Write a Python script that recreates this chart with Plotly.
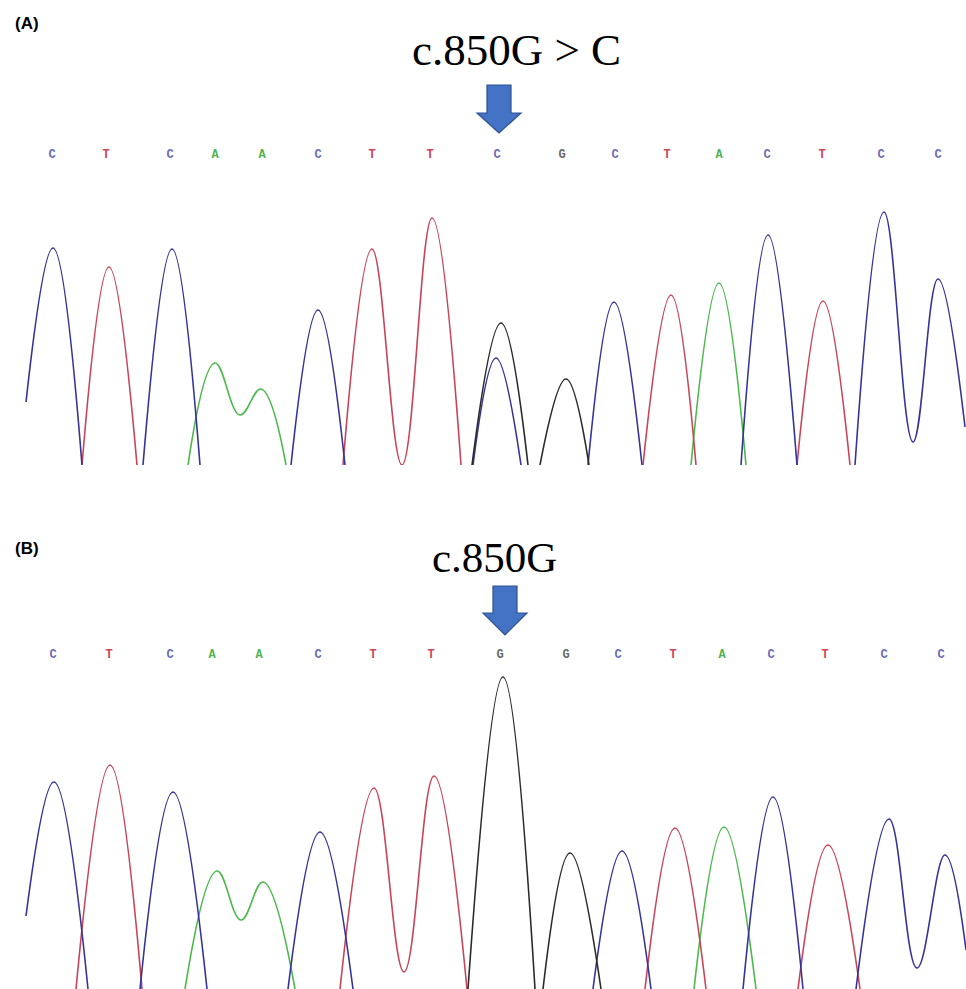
import plotly.graph_objects as go

W, H = 966, 989

# ---------------- data (scan position, signal intensity) ----------------
# Panel A: patient (heterozygous c.850G>C)
A_bases = ["C","T","C","A","A","C","T","T","C","G","C","T","A","C","T","C","C"]
A_base_pos = [52,106,170,215,262,318,372,430,497,562,615,667,719,767,822,881,938]

A_C_x = [[26,53,82],[143,172,200],[291,318,345],[473,496,521],[588,614,642],[741,768,797],[855,884,913,938,965]]
A_C_y = [[63,217,0],[0,216,0],[0,155,0],[0,107,0],[0,163,0],[0,230,0],[0,253,23,186,38]]
A_T_x = [[82,109,137],[343,372,402,432,461],[643,671,696],[797,823,850]]
A_T_y = [[0,198,0],[0,216,0,247,0],[0,170,0],[0,164,0]]
A_A_x = [[188,215,240,261,286],[691,719,746]]
A_A_y = [[0,102,50,76,0],[0,182,0]]
A_G_x = [[472,501,528],[540,566,589]]
A_G_y = [[0,142,0],[0,86,0]]

# Panel B: control (wild type c.850G)
B_bases = ["C","T","C","A","A","C","T","T","G","G","C","T","A","C","T","C","C"]
B_base_pos = [53,109,170,212,259,318,373,431,500,566,618,673,722,771,825,884,941]

B_C_x = [[26,54,88],[140,173,207],[288,320,353],[593,622,651],[743,773,803],[856,889,917,945,966]]
B_C_y = [[73,207,0],[0,197,0],[0,157,0],[0,138,0],[0,192,0],[0,170,21,134,39]]
B_T_x = [[76,110,142],[340,374,404,434,467],[645,675,706],[798,828,860]]
B_T_y = [[0,224,0],[0,201,17,213,0],[0,161,0],[0,144,0]]
B_A_x = [[185,217,241,263,295],[694,724,756]]
B_A_y = [[0,118,69,107,0],[0,162,0]]
B_G_x = [[468,503,535],[543,570,601]]
B_G_y = [[0,312,0],[0,136,0]]

A_title = "c.850G > C"
B_title = "c.850G"

# ---------------- styles ----------------
trace_col = {"C": "#34349a", "T": "#c94459", "A": "#4cb84c", "G": "#2b2b2b"}
label_col = {"C": "#6b6bb5", "T": "#d0455a", "A": "#4fb34f", "G": "#6a6a6a"}


def join(segs):
    out = []
    for i, s in enumerate(segs):
        if i:
            out.append(None)
        out.extend(s)
    return out


fig = go.Figure()

panels = [
    ("x", "y", {"C": (A_C_x, A_C_y), "T": (A_T_x, A_T_y), "A": (A_A_x, A_A_y), "G": (A_G_x, A_G_y)},
     A_bases, A_base_pos, 310),
    ("x2", "y2", {"C": (B_C_x, B_C_y), "T": (B_T_x, B_T_y), "A": (B_A_x, B_A_y), "G": (B_G_x, B_G_y)},
     B_bases, B_base_pos, 334),
]

for xa, ya, chans, bases, bpos, label_v in panels:
    for base in ["A", "T", "C", "G"]:
        xs, ys = chans[base]
        fig.add_trace(go.Scatter(
            x=join(xs), y=join(ys), mode="lines", xaxis=xa, yaxis=ya,
            line=dict(color=trace_col[base], width=1.6, shape="spline", smoothing=1.15),
            connectgaps=False, showlegend=False, hoverinfo="skip"))
    fig.add_trace(go.Scatter(
        x=bpos, y=[label_v] * len(bpos), mode="text", text=bases, xaxis=xa, yaxis=ya,
        textfont=dict(family="Liberation Mono", size=12, weight="bold",
                      color=[label_col[b] for b in bases]),
        showlegend=False, hoverinfo="skip", cliponaxis=False))

ax_common = dict(showgrid=False, zeroline=False, showticklabels=False, ticks="", showline=False)
fig.update_layout(
    width=W, height=H, margin=dict(l=0, r=0, t=0, b=0),
    paper_bgcolor="white", plot_bgcolor="white",
    xaxis=dict(domain=[0, 1], range=[0, W], **ax_common),
    yaxis=dict(domain=[1 - 465 / H, 1 - 130 / H], range=[0, 335], **ax_common),
    xaxis2=dict(domain=[0, 1], range=[0, W], anchor="y2", **ax_common),
    yaxis2=dict(domain=[0, 1 - 640 / H], range=[0, 349], anchor="x2", **ax_common),
)


def P(px, py):
    return px / W, 1 - py / H


# panel letters and mutation titles
for txt, (px, py) in [("(A)", (27, 23)), ("(B)", (27, 548))]:
    x, y = P(px, py)
    fig.add_annotation(x=x, y=y, xref="paper", yref="paper", text="<b>%s</b>" % txt,
                       xanchor="center", yanchor="middle",
                       showarrow=False, font=dict(family="Liberation Sans", size=17, color="black"))
for txt, (px, py), sz in [(A_title, (516, 50), 45), (B_title, (494, 557), 43)]:
    x, y = P(px, py)
    fig.add_annotation(x=x, y=y, xref="paper", yref="paper", text=txt, showarrow=False,
                       xanchor="center", yanchor="middle",
                       font=dict(family="Liberation Serif", size=sz, color="black"))


# block arrows
def arrow(cx, top, head_base, tip, shaft_w=24, head_w=44):
    pts = [(cx - shaft_w / 2, top), (cx + shaft_w / 2, top), (cx + shaft_w / 2, head_base),
           (cx + head_w / 2, head_base), (cx, tip), (cx - head_w / 2, head_base),
           (cx - shaft_w / 2, head_base)]
    path = "M " + " L ".join("%.5f,%.5f" % P(*p) for p in pts) + " Z"
    fig.add_shape(type="path", path=path, xref="paper", yref="paper",
                  fillcolor="#4472C4", line=dict(color="#2F528F", width=1.2))


arrow(499, 85, 113, 133)
arrow(505, 586, 613, 635)

fig.write_html("out.html", config={"displayModeBar": False},
               post_script="document.body.style.margin='0';")
